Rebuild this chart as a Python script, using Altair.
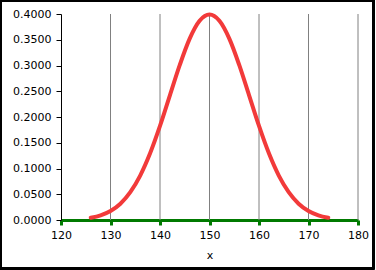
import altair as alt
import pandas as pd

x_vals = [126, 128, 130, 132, 134, 136, 138, 140, 142, 144, 146, 148, 150,
          152, 154, 156, 158, 160, 162, 164, 166, 168, 170, 172, 174]
y_vals = [0.0044, 0.0091, 0.0175, 0.0317, 0.0540, 0.0863, 0.1295, 0.1826,
          0.2420, 0.3011, 0.3521, 0.3867, 0.3989, 0.3867, 0.3521, 0.3011,
          0.2420, 0.1826, 0.1295, 0.0863, 0.0540, 0.0317, 0.0175, 0.0091, 0.0044]
x_ticks = [120, 130, 140, 150, 160, 170, 180]
y_ticks = [0.0, 0.05, 0.1, 0.15, 0.2, 0.25, 0.3, 0.35, 0.4]

df = pd.DataFrame({"x": x_vals, "y": y_vals})
grid_df = pd.DataFrame({"x": [130, 140, 150, 160, 170, 180]})

W, H = 297, 206
PL, PT = 61, 14

xs = alt.Scale(domain=[120, 180], nice=False, zero=False)
ys = alt.Scale(domain=[0, 0.4], nice=False)

x_axis = alt.Axis(values=x_ticks, format="d", grid=False, labelFlush=False,
                  domainColor="#007A00", domainWidth=3,
                  tickColor="#007A00", tickWidth=3, tickSize=5,
                  labelColor="black", labelFont="DejaVu Sans", labelFontSize=11,
                  labelPadding=4, titleFont="DejaVu Sans", titleFontSize=11,
                  titleFontWeight="normal", titleColor="black", titlePadding=9)
y_axis = alt.Axis(values=y_ticks, format=".4f", grid=False, labelFlush=False,
                  domainColor="black", domainWidth=1,
                  tickColor="black", tickSize=5,
                  labelColor="black", labelFont="DejaVu Sans", labelFontSize=11,
                  labelPadding=5)

grid = alt.Chart(grid_df).mark_rule(color="#808080", strokeWidth=1).encode(
    x=alt.X("x:Q", scale=xs, title="x", axis=x_axis),
    y=alt.value(0), y2=alt.value(H),
)

line = alt.Chart(df).mark_line(color="#F23A3A", strokeWidth=4, interpolate="monotone",
                               strokeCap="round").encode(
    x=alt.X("x:Q", scale=xs, title="x", axis=x_axis),
    y=alt.Y("y:Q", scale=ys, title=None, axis=y_axis),
)

border = alt.Chart(df).mark_rect(fill=None, stroke="black", strokeWidth=1.5, clip=False).encode(
    x=alt.value(-PL + 0.75), x2=alt.value(-PL + 373.5),
    y=alt.value(-PT + 0.75), y2=alt.value(-PT + 268.5),
)

chart = alt.layer(grid, line, border).properties(
    width=W, height=H,
    autosize=alt.AutoSizeParams(type="none"),
    padding={"left": PL, "top": PT, "right": 376 - PL - W, "bottom": 270 - PT - H},
    background="white",
).configure_view(stroke=None)

chart.save("out.html", embed_options={"renderer": "svg", "actions": False})
